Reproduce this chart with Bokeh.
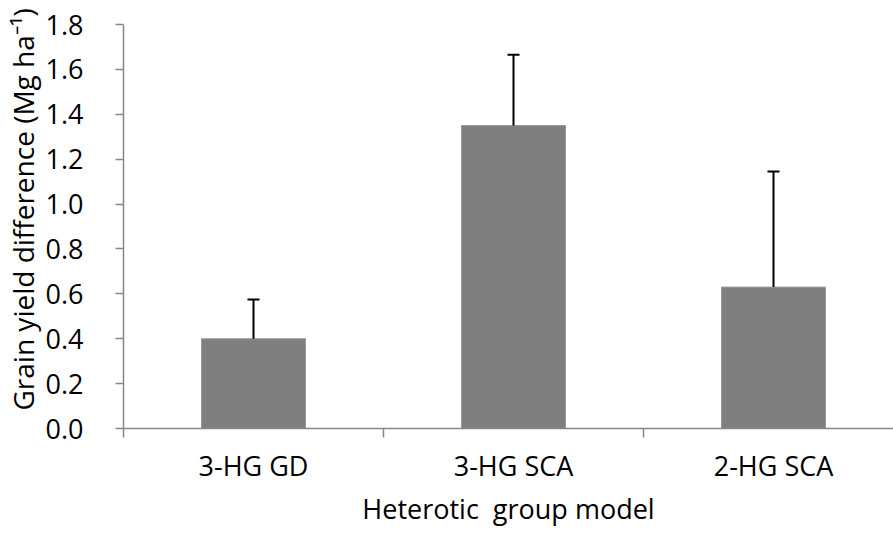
from bokeh.plotting import figure
from bokeh.models import Range1d, FixedTicker, ColumnDataSource, Whisker, TeeHead, Title
from bokeh.embed import file_html
from bokeh.resources import INLINE

categories = ["3-HG GD", "3-HG SCA", "2-HG SCA"]
means = [0.40, 1.35, 0.63]
errors = [0.175, 0.315, 0.515]
y_ticks = [0.0, 0.2, 0.4, 0.6, 0.8, 1.0, 1.2, 1.4, 1.6, 1.8]
y_tick_labels = ["0.0", "0.2", "0.4", "0.6", "0.8", "1.0", "1.2", "1.4", "1.6", "1.8"]
x_title = "Heterotic\u00a0 group model"
y_title = "Grain yield difference (Mg ha\u207b\u00b9)"

FONT = "Open Sans"
FS = "27px"
AXIS_COLOR = "#868686"

xs = [i + 0.5 for i in range(len(categories))]
tops = [m + e for m, e in zip(means, errors)]
src = ColumnDataSource(dict(x=xs, top=means, upper=tops))

p = figure(width=893, height=533, output_backend="svg", toolbar_location=None,
           x_range=Range1d(0, 770 / 260), y_range=Range1d(0, 1.8),
           min_border_left=123, min_border_right=0, min_border_top=24, min_border_bottom=105)
p.outline_line_color = None
p.xgrid.visible = False
p.ygrid.visible = False
p.background_fill_color = "white"

p.vbar(x="x", top="top", bottom=0, width=0.4, source=src,
       fill_color="#7f7f7f", line_color="#9a9a9a", line_width=1)

w = Whisker(base="x", upper="upper", lower="top", source=src, dimension="height",
            line_color="black", line_width=2,
            upper_head=TeeHead(size=12, line_color="black", line_width=2),
            lower_head=None, level="overlay")
p.add_layout(w)

# x axis
xa = p.xaxis[0]
xa.ticker = FixedTicker(ticks=xs, minor_ticks=[0, 1, 2, 3])
xa.major_label_overrides = {x: c for x, c in zip(xs, categories)}
xa.major_tick_line_color = None
xa.minor_tick_out = 9
xa.minor_tick_in = 0
xa.minor_tick_line_color = AXIS_COLOR
xa.minor_tick_line_width = 1.5
xa.axis_line_color = AXIS_COLOR
xa.axis_line_width = 1.5
xa.major_label_text_font = FONT
xa.major_label_text_font_size = FS
xa.major_label_text_color = "black"
xa.major_label_standoff = 9
xa.axis_label = x_title
xa.axis_label_text_font = FONT
xa.axis_label_text_font_size = FS
xa.axis_label_text_font_style = "normal"
xa.axis_label_text_color = "black"
xa.axis_label_standoff = 3

# y axis
ya = p.yaxis[0]
ya.ticker = FixedTicker(ticks=y_ticks)
ya.major_label_overrides = {t: l for t, l in zip(y_ticks, y_tick_labels)}
ya.major_tick_out = 8
ya.major_tick_in = 0
ya.minor_tick_line_color = None
ya.major_tick_line_color = AXIS_COLOR
ya.major_tick_line_width = 1.5
ya.axis_line_color = AXIS_COLOR
ya.axis_line_width = 1.5
ya.major_label_text_font = FONT
ya.major_label_text_font_size = FS
ya.major_label_text_color = "black"
ya.major_label_standoff = 32

yt = Title(text=y_title, align="left", offset=18, standoff=1,
           text_font=FONT, text_font_size="28px", text_font_style="normal",
           text_color="black")
p.add_layout(yt, "left")

open("out.html", "w").write(file_html(p, INLINE))
